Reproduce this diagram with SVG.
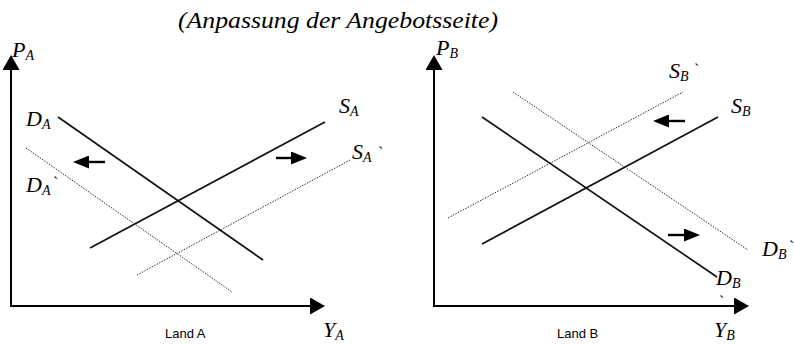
<svg xmlns="http://www.w3.org/2000/svg" width="794" height="344" viewBox="0 0 794 344">
<style>
.bg{fill:#fff}
.axis{stroke:#000;stroke-width:2;fill:none}
.curve{stroke:#111;stroke-width:1.7;fill:none}
.dot{stroke:#222;stroke-width:1;stroke-dasharray:1.4 1.4;fill:none}
.shift{stroke:#000;stroke-width:2.4;fill:none}
.lbl{font-family:'Liberation Serif','DejaVu Serif',serif;font-style:italic;font-size:22px;fill:#000}
.sub{font-size:14px}
.tick{font-family:'Liberation Serif','DejaVu Serif',serif;font-size:16px;fill:#000}
.title{font-family:'Liberation Serif','DejaVu Serif',serif;font-style:italic;font-size:24px;fill:#000}
.land{font-family:'Liberation Sans',Arial,sans-serif;font-size:13px;fill:#000}
</style>
<defs>
<marker id="axHead" markerUnits="userSpaceOnUse" viewBox="0 0 15 17" refX="5" refY="8.5" markerWidth="15" markerHeight="17" orient="auto"><path d="M0,0 L15,8.5 L0,17 z" fill="#000"/></marker>
<marker id="shHead" markerUnits="userSpaceOnUse" viewBox="0 0 16 13" refX="5" refY="6.5" markerWidth="16" markerHeight="13" orient="auto"><path d="M0,0 L16,6.5 L0,13 z" fill="#000"/></marker>
</defs>
<rect class="bg" x="0" y="0" width="794" height="344"/>
<text class="title" x="178" y="28" textLength="320" lengthAdjust="spacingAndGlyphs">(Anpassung der Angebotsseite)</text>

<g id="connectors">
<line class="axis" x1="11" y1="306" x2="11" y2="65" marker-end="url(#axHead)"/>
<line class="axis" x1="10" y1="306" x2="315" y2="306" marker-end="url(#axHead)"/>
<line class="curve" x1="58" y1="117" x2="263" y2="260"/>
<line class="curve" x1="90" y1="248" x2="325" y2="122"/>
<line class="dot" x1="26" y1="148" x2="232" y2="292"/>
<line class="dot" x1="137" y1="275" x2="350" y2="160"/>
<line class="shift" x1="105" y1="162" x2="84" y2="162" marker-end="url(#shHead)"/>
<line class="shift" x1="276" y1="158" x2="296" y2="158" marker-end="url(#shHead)"/>
<line class="axis" x1="434" y1="306" x2="434" y2="65" marker-end="url(#axHead)"/>
<line class="axis" x1="433" y1="306" x2="739" y2="306" marker-end="url(#axHead)"/>
<line class="curve" x1="482" y1="117" x2="717" y2="277"/>
<line class="curve" x1="482" y1="244" x2="718" y2="117"/>
<line class="dot" x1="448" y1="218" x2="683" y2="92"/>
<line class="dot" x1="513" y1="92" x2="748" y2="250"/>
<line class="shift" x1="685" y1="121" x2="664" y2="121" marker-end="url(#shHead)"/>
<line class="shift" x1="668" y1="235" x2="689" y2="235" marker-end="url(#shHead)"/>
</g>

<g id="panelA">
<g id="PA"><text class="lbl" x="12" y="57">P<tspan class="sub" dy="3">A</tspan></text></g>
<g id="DA"><text class="lbl" x="26" y="126">D<tspan class="sub" dy="3">A</tspan></text></g>
<g id="DA2"><text class="lbl" x="26" y="192">D<tspan class="sub" dy="3">A</tspan></text><text class="tick" x="53" y="188">`</text></g>
<g id="SA"><text class="lbl" x="339" y="113">S<tspan class="sub" dy="3">A</tspan></text></g>
<g id="SA2"><text class="lbl" x="352" y="159">S<tspan class="sub" dy="3">A</tspan></text><text class="tick" x="378" y="158">`</text></g>
<g id="YA"><text class="lbl" x="323" y="337">Y<tspan class="sub" dy="3">A</tspan></text></g>
<g id="LandA"><text class="land" x="165" y="338">Land A</text></g>
</g>

<g id="panelB">
<g id="PB"><text class="lbl" x="436" y="55">P<tspan class="sub" dy="3">B</tspan></text></g>
<g id="SB2"><text class="lbl" x="669" y="78">S<tspan class="sub" dy="3">B</tspan></text><text class="tick" x="694" y="75">`</text></g>
<g id="SB"><text class="lbl" x="731" y="113">S<tspan class="sub" dy="3">B</tspan></text></g>
<g id="DB2"><text class="lbl" x="762" y="256">D<tspan class="sub" dy="3">B</tspan></text><text class="tick" x="789" y="252">`</text></g>
<g id="DB"><text class="lbl" x="716" y="285">D<tspan class="sub" dy="3">B</tspan></text><text class="tick" x="719" y="307">`</text></g>
<g id="YB"><text class="lbl" x="714" y="337">Y<tspan class="sub" dy="3">B</tspan></text></g>
<g id="LandB"><text class="land" x="557" y="338">Land B</text></g>
</g>
</svg>
